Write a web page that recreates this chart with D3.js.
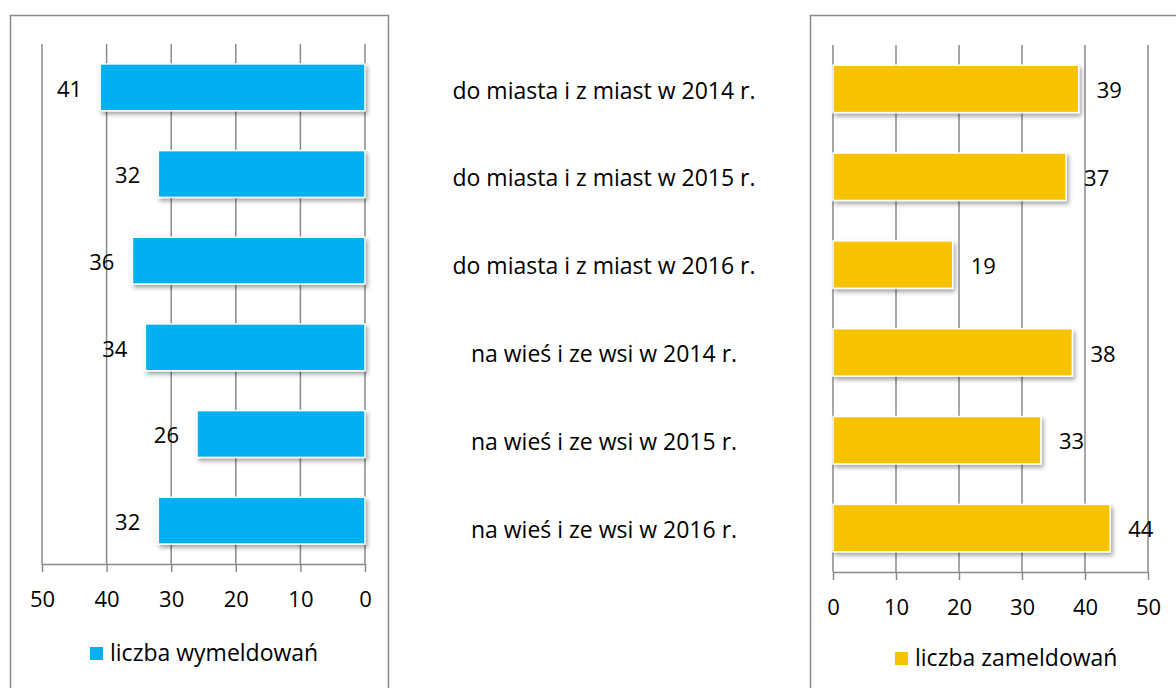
<!DOCTYPE html>
<html>
<head>
<meta charset="utf-8">
<script src="https://cdn.jsdelivr.net/npm/d3@7"></script>
<style>
  body { margin: 0; background: #fff; }
  text { font-family: "Open Sans", sans-serif; fill: #000; }
</style>
</head>
<body>
<script>
var categories = ["do miasta i z miast w 2014 r.", "do miasta i z miast w 2015 r.", "do miasta i z miast w 2016 r.",
  "na wieś i ze wsi w 2014 r.", "na wieś i ze wsi w 2015 r.", "na wieś i ze wsi w 2016 r."];
var wymeldowania = [41, 32, 36, 34, 26, 32];
var zameldowania = [39, 37, 19, 38, 33, 44];
var ticks = [0, 10, 20, 30, 40, 50];
var legendLeft = "liczba wymeldowań";
var legendRight = "liczba zameldowań";

var W = 1176, H = 688;
var svg = d3.select("body").append("svg")
  .attr("width", W)
  .attr("height", H);

var defs = svg.append("defs");
defs.append("filter")
  .attr("id", "shadow")
  .attr("x", "-10%").attr("y", "-20%")
  .attr("width", "130%").attr("height", "160%")
  .append("feDropShadow")
  .attr("dx", 2).attr("dy", 3)
  .attr("stdDeviation", 2)
  .attr("flood-color", "#000")
  .attr("flood-opacity", 0.35);

var gridColor = "#8a8a8a";

// panel frames
svg.append("rect")
  .attr("x", 10.5).attr("y", 15.5)
  .attr("width", 378).attr("height", 700)
  .attr("fill", "none").attr("stroke", gridColor).attr("stroke-width", 1.5);
svg.append("rect")
  .attr("x", 810.5).attr("y", 15.5)
  .attr("width", 400).attr("height", 700)
  .attr("fill", "none").attr("stroke", gridColor).attr("stroke-width", 1.5);

function panel(opts) {
  var x = d3.scaleLinear().domain([0, 50]).range(opts.xRange);
  var y = d3.scaleBand().domain(categories).range(opts.yRange).paddingInner(0.46).paddingOuter(0.23);
  var g = svg.append("g");

  // gridlines
  g.selectAll(".grid").data(ticks).enter().append("line")
    .attr("x1", function(d) { return x(d); })
    .attr("x2", function(d) { return x(d); })
    .attr("y1", opts.yRange[0])
    .attr("y2", opts.yRange[1])
    .attr("stroke", gridColor)
    .attr("stroke-width", 1.5);

  // axis
  var ax = g.append("g")
    .attr("transform", "translate(0," + opts.yRange[1] + ")")
    .call(d3.axisBottom(x).tickValues(ticks).tickSizeInner(8).tickSizeOuter(0).tickPadding(19));
  ax.select(".domain").attr("stroke", gridColor).attr("stroke-width", 1.5);
  ax.selectAll(".tick line").attr("stroke", gridColor).attr("stroke-width", 1.5);
  ax.selectAll(".tick text")
    .style("font-family", "'Open Sans', sans-serif")
    .style("font-size", "22px")
    .attr("fill", "#000");

  // bars
  g.selectAll(".bar").data(opts.values).enter().append("rect")
    .attr("x", function(d) { return Math.min(x(0), x(d)); })
    .attr("y", function(d, i) { return y(categories[i]); })
    .attr("width", function(d) { return Math.abs(x(d) - x(0)); })
    .attr("height", y.bandwidth())
    .attr("fill", opts.color)
    .attr("stroke", "#fff")
    .attr("stroke-width", 1.5)
    .attr("filter", "url(#shadow)");

  // value labels
  g.selectAll(".val").data(opts.values).enter().append("text")
    .attr("x", function(d) { return x(d) + opts.labelOffset; })
    .attr("y", function(d, i) { return y(categories[i]) + y.bandwidth() / 2; })
    .attr("dy", "0.42em")
    .attr("text-anchor", opts.labelAnchor)
    .style("font-size", "22px")
    .text(function(d) { return d; });

  // legend
  var lg = g.append("g").attr("transform", "translate(" + opts.legendX + "," + opts.legendY + ")");
  lg.append("rect")
    .attr("x", 0).attr("y", -6)
    .attr("width", 13).attr("height", 13)
    .attr("fill", opts.color);
  lg.append("text")
    .attr("x", 20).attr("y", 0)
    .attr("dy", "0.35em")
    .style("font-size", "23px")
    .text(opts.legend);

  return y;
}

panel({
  xRange: [365, 42],
  yRange: [44, 564],
  values: wymeldowania,
  color: "#00B0F0",
  labelOffset: -18,
  labelAnchor: "end",
  legend: legendLeft,
  legendX: 90,
  legendY: 653
});

var yR = panel({
  xRange: [833, 1148],
  yRange: [45, 572],
  values: zameldowania,
  color: "#F7C300",
  labelOffset: 18,
  labelAnchor: "start",
  legend: legendRight,
  legendX: 895,
  legendY: 658
});

// category labels between panels
svg.append("g").selectAll("text").data(categories).enter().append("text")
  .attr("x", 604)
  .attr("y", function(d) { return yR(d) + yR.bandwidth() / 2; })
  .attr("dy", "0.42em")
  .attr("text-anchor", "middle")
  .style("font-size", "23px")
  .text(function(d) { return d; });
</script>
</body>
</html>
